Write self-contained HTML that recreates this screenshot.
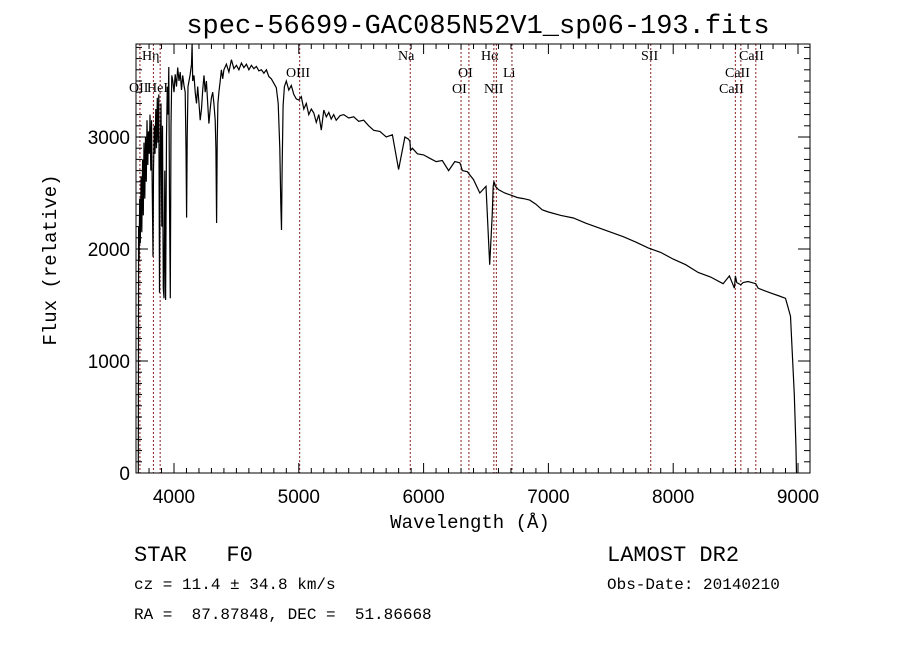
<!DOCTYPE html>
<html><head><meta charset="utf-8"><style>
body{margin:0;background:#fff;}
svg{display:block;}
</style></head><body>
<svg id="chart" width="900" height="649" xmlns="http://www.w3.org/2000/svg">
<rect width="900" height="649" fill="#fff"/>
<text x="478" y="33" text-anchor="middle" font-family="Liberation Mono, monospace" font-size="27">spec-56699-GAC085N52V1_sp06-193.fits</text>
<g id="lines"></g>
<g id="axes"></g>
<path id="spec" fill="none" stroke="#000" stroke-width="1.2"/>
<text x="470" y="528" text-anchor="middle" font-family="Liberation Mono, monospace" font-size="19">Wavelength (Å)</text>
<text transform="translate(56,260) rotate(-90)" text-anchor="middle" font-family="Liberation Mono, monospace" font-size="19">Flux (relative)</text>
<text x="134" y="561" font-family="Liberation Mono, monospace" font-size="22" xml:space="preserve">STAR   F0</text>
<text x="607" y="561" font-family="Liberation Mono, monospace" font-size="22">LAMOST DR2</text>
<text x="134" y="589" font-family="Liberation Mono, monospace" font-size="16">cz = 11.4 ± 34.8 km/s</text>
<text x="607" y="589" font-family="Liberation Mono, monospace" font-size="16">Obs-Date: 20140210</text>
<text x="134" y="619" font-family="Liberation Mono, monospace" font-size="16" xml:space="preserve">RA =  87.87848, DEC =  51.86668</text>
</svg>
<script>
const wave=[3714,3716,3720,3725,3730,3736,3742,3748,3754,3760,3766,3772,3778,3784,3790,3796,3802,3808,3814,3820,3826,3832,3836,3842,3848,3854,3860,3866,3872,3878,3884,3890,3896,3902,3908,3914,3920,3926,3933,3940,3946,3952,3958,3964,3970,3976,3982,3990,4000,4010,4020,4030,4040,4050,4060,4070,4080,4090,4096,4101,4106,4112,4120,4130,4140,4145,4150,4160,4170,4180,4190,4200,4210,4220,4230,4240,4250,4260,4270,4280,4290,4300,4310,4320,4330,4336,4341,4346,4352,4360,4370,4380,4390,4400,4420,4440,4460,4480,4500,4520,4540,4560,4580,4600,4620,4640,4660,4680,4700,4720,4740,4760,4780,4800,4820,4835,4848,4856,4861,4866,4874,4885,4900,4920,4940,4960,4980,5000,5020,5040,5060,5080,5100,5120,5140,5160,5180,5200,5220,5240,5260,5280,5300,5330,5360,5400,5440,5480,5520,5560,5600,5650,5700,5750,5800,5850,5880,5890,5896,5910,5950,6000,6050,6100,6150,6200,6250,6290,6300,6310,6350,6400,6450,6500,6530,6550,6558,6563,6568,6575,6600,6650,6700,6750,6800,6850,6900,6950,7000,7100,7200,7300,7400,7500,7600,7700,7800,7900,8000,8100,8200,8300,8400,8450,8490,8498,8510,8542,8560,8600,8662,8680,8750,8800,8850,8900,8940,8970,8983,8988,8992,8996];
const flux=[0,2200,1900,2450,2050,2650,2150,2800,2300,2950,2450,3000,2600,3150,2750,3050,2850,3200,2700,3150,2500,1930,2700,3100,2850,3250,2900,3350,2950,3380,1610,2900,3300,2200,3100,1650,1560,2700,1545,3000,3450,3200,3625,2400,1560,3100,3550,3500,3400,3560,3450,3620,3500,3580,3420,3550,3460,3400,2900,2280,3000,3450,3500,3560,3650,3830,3500,3550,3400,3300,3450,3300,3150,3250,3420,3550,3400,3500,3300,3120,3250,3350,3400,3300,3150,2900,2232,2950,3300,3400,3500,3600,3520,3600,3650,3580,3690,3610,3640,3600,3660,3620,3650,3600,3640,3610,3630,3590,3600,3570,3600,3540,3520,3480,3440,3300,2900,2400,2170,2700,3280,3450,3500,3420,3460,3380,3340,3330,3360,3250,3300,3200,3250,3214,3130,3200,3062,3240,3180,3220,3160,3200,3150,3190,3200,3170,3180,3140,3150,3100,3060,3050,3000,3020,2710,3000,2980,2960,2880,2900,2850,2840,2810,2780,2790,2700,2780,2770,2740,2700,2690,2620,2500,2560,1860,2300,2560,2600,2590,2560,2530,2500,2480,2460,2450,2437,2400,2350,2330,2300,2277,2230,2190,2150,2110,2062,2010,1970,1910,1860,1790,1750,1690,1760,1650,1760,1700,1680,1700,1710,1690,1650,1620,1600,1580,1560,1400,700,250,0];
const lineWave=[3727,3835,3889,5007,5893,6300,6363,6563,6583,6708,7820,8498,8542,8662];
const lineName=["OII","Hη","HeI","OIII","Na","OI","OI","Hα","NII","Li","SII","CaII","CaII","CaII"];
const labelPos=[[129,92],[142,60],[147,92],[286,77],[398,60],[452,93],[458,77],[481,60],[484,93],[503,77],[641,60],[719,93],[725,77],[739,60]];
const xTicks=[4000,5000,6000,7000,8000,9000];
const yTicks=[0,1000,2000,3000];
const L=136,R=810,T=44,B=473;
function xs(w){return 174+(w-4000)*0.1248;}
function ys(f){return 473-f*0.112;}
const NS="http://www.w3.org/2000/svg";
function mk(tag,attrs,parent){const e=document.createElementNS(NS,tag);for(const k in attrs)e.setAttribute(k,attrs[k]);parent.appendChild(e);return e;}
const ax=document.getElementById('axes'),lg=document.getElementById('lines');
lineWave.forEach((w,i)=>{
 const l=mk('line',{x1:xs(w),x2:xs(w),y1:T,y2:B,stroke:'#8b2020','stroke-width':1,'stroke-dasharray':'2,2'},lg);
 
 
 const t=mk('text',{x:labelPos[i][0],y:labelPos[i][1],'font-family':'Liberation Serif, serif','font-size':14},lg);
 t.textContent=lineName[i];
 
 
});
const frame=mk('rect',{x:L,y:T,width:R-L,height:B-T,fill:'none',stroke:'#000','stroke-width':1},ax);


for(let w=3800;w<=9000;w+=100){
 const x=xs(w),maj=w%1000===0,len=maj?10:5;
 mk('line',{x1:x,x2:x,y1:B,y2:B-len,stroke:'#000'},ax);
 mk('line',{x1:x,x2:x,y1:T,y2:T+len,stroke:'#000'},ax);
}
xTicks.forEach(w=>{
 const t=mk('text',{x:xs(w),y:B+30,'text-anchor':'middle','font-family':'Liberation Sans, sans-serif','font-size':19},ax);
 t.textContent=w;
 
 
});
for(let f=0;f<=3800;f+=100){
 const y=ys(f),maj=f%1000===0,len=maj?12:6;
 mk('line',{x1:L,x2:L+len,y1:y,y2:y,stroke:'#000'},ax);
 mk('line',{x1:R,x2:R-len,y1:y,y2:y,stroke:'#000'},ax);
}
yTicks.forEach(f=>{
 const t=mk('text',{x:L-6,y:ys(f)+7,'text-anchor':'end','font-family':'Liberation Sans, sans-serif','font-size':19},ax);
 t.textContent=f;
 
 
});
let d='';
wave.forEach((w,i)=>{d+=(i?'L':'M')+xs(w).toFixed(1)+','+Math.max(T,ys(flux[i])).toFixed(1);});
document.getElementById('spec').setAttribute('d',d);
</script>
</body></html>
